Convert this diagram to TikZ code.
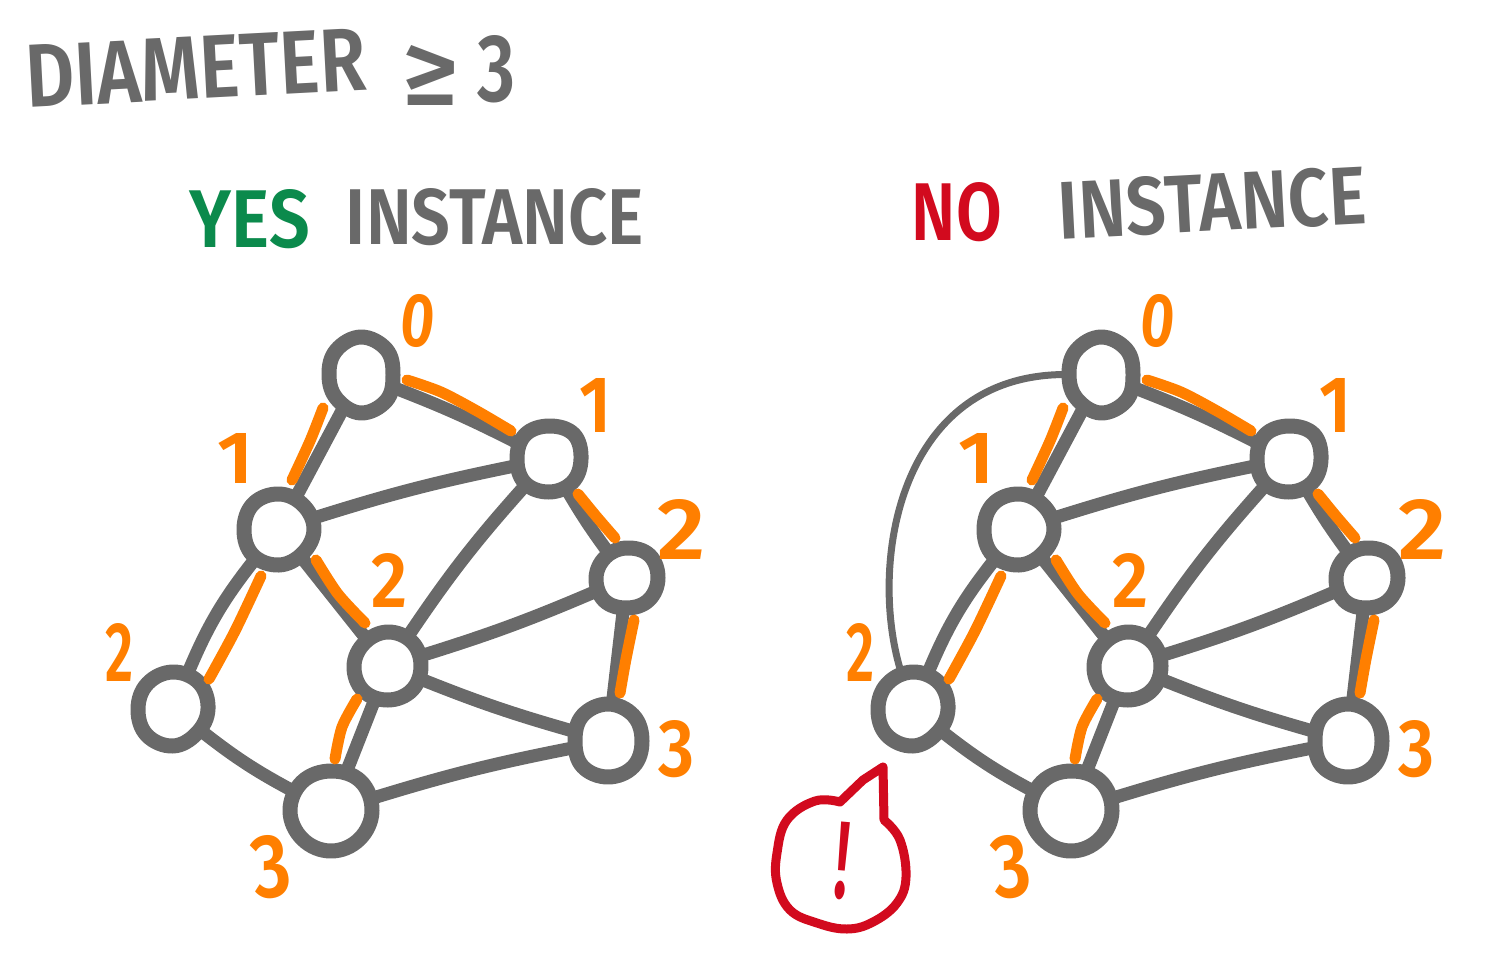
\documentclass[tikz,border=0pt]{standalone}
\usepackage{fontspec}
\usepackage{graphicx}
\setmainfont{Fira Sans}[BoldFont=* SemiBold]
\usetikzlibrary{shapes.geometric}
\definecolor{inkgray}{HTML}{696969}
\definecolor{inkorange}{HTML}{FF7F00}
\definecolor{inkgreen}{HTML}{0B8A4C}
\definecolor{inkred}{HTML}{D20A1E}
\newcommand{\handtext}[3]{\resizebox{#1pt}{#2pt}{\bfseries #3}}
\tikzset{
  hub/.style args={#1/#2}{ellipse,inner sep=0pt,outer sep=0pt,minimum width=#1pt,minimum height=#2pt},
  ring/.style={draw=inkgray,line width=15pt,line join=round},
  edge line/.style={draw=inkgray,line width=13pt},
  mark line/.style={draw=inkorange,line width=11pt,line cap=round,line join=round},
  label text/.style={inner sep=0pt,text=inkorange},
  title text/.style={inner sep=0pt,text=inkgray}
}
\newcommand{\graphat}[2]{%
  \begin{scope}[xshift=#2pt]
    \node[hub=64/76] (#1a) at (361,375) {};
    \node[hub=64/66] (#1b) at (549,459) {};
    \node[hub=70/72] (#1c) at (279,529) {};
    \node[hub=62/58] (#1d) at (627,578) {};
    \node[hub=68/68] (#1e) at (388,666) {};
    \node[hub=70/74] (#1f) at (173,709) {};
    \node[hub=68/72] (#1g) at (608,741) {};
    \node[hub=82/80] (#1h) at (331,811) {};
    \draw[edge line] (#1a) to[bend left=3] (#1b);
    \draw[edge line] (#1a) -- (#1c);
    \draw[edge line] (#1c) to[bend left=3] (#1b);
    \draw[edge line] (#1c) to[bend right=8] (#1f);
    \draw[edge line] (#1c) -- (#1e);
    \draw[edge line] (#1b) to[bend right=3] (#1d);
    \draw[edge line] (#1b) to[bend right=4] (#1e);
    \draw[edge line] (#1e) to[bend right=3] (#1d);
    \draw[edge line] (#1e) to[bend right=3] (#1g);
    \draw[edge line] (#1e) -- (#1h);
    \draw[edge line] (#1d) -- (#1g);
    \draw[edge line] (#1f) to[bend right=5] (#1h);
    \draw[edge line] (#1h) to[bend left=3] (#1g);
    \draw[ring,shift={(361,375)}] plot[smooth cycle,tension=.67] coordinates {(0:32) (45:36) (90:38) (135:34) (180:32) (225:35) (270:38) (315:36)};
    \draw[ring,shift={(549,459)}] plot[smooth cycle,tension=.67] coordinates {(0:32) (45:33) (90:33) (135:34) (180:32) (225:34) (270:33) (315:35)};
    \draw[ring,shift={(279,529)}] plot[smooth cycle,tension=.67] coordinates {(0:35) (45:34) (90:36) (135:37) (180:35) (225:36) (270:35) (315:34)};
    \draw[ring,shift={(627,578)}] plot[smooth cycle,tension=.67] coordinates {(0:31) (45:31) (90:30) (135:32) (180:31) (225:30) (270:30) (315:32)};
    \draw[ring,shift={(388,666)}] plot[smooth cycle,tension=.67] coordinates {(0:33) (45:34) (90:34) (135:35) (180:34) (225:33) (270:34) (315:34)};
    \draw[ring,shift={(173,709)}] plot[smooth cycle,tension=.67] coordinates {(0:35) (45:34) (90:37) (135:37) (180:35) (225:36) (270:37) (315:37)};
    \draw[ring,shift={(608,741)}] plot[smooth cycle,tension=.67] coordinates {(0:34) (45:36) (90:36) (135:36) (180:33) (225:36) (270:37) (315:36)};
    \draw[ring,shift={(331,811)}] plot[smooth cycle,tension=.67] coordinates {(0:41) (45:40) (90:40) (135:40) (180:41) (225:41) (270:40) (315:42)};
    \draw[mark line] plot[smooth] coordinates {(407,380) (441,392) (477,411) (511,431)};
    \draw[mark line] plot[smooth] coordinates {(323,408) (310,441) (292,480)};
    \draw[mark line] plot[smooth] coordinates {(578,494) (596,516) (615,538)};
    \draw[mark line] plot[smooth] coordinates {(316,560) (338,594) (365,623)};
    \draw[mark line] plot[smooth] coordinates {(261,576) (235,631) (209,679)};
    \draw[mark line] plot[smooth] coordinates {(634,620) (626,659) (620,693)};
    \draw[mark line] plot[smooth] coordinates {(357,699) (342,727) (335,759)};
    \node[label text,rotate=-6] (#1l0) at (418,321) {\handtext{34}{52}{0}};
    \node[label text] (#1l1) at (595,405) {\handtext{32}{54}{1}};
    \node[label text] (#1l2) at (236,458) {\handtext{36}{50}{1}};
    \node[label text] (#1l3) at (682,529) {\handtext{48}{60}{2}};
    \node[label text] (#1l4) at (390,580) {\handtext{36}{54}{2}};
    \node[label text] (#1l5) at (120,652) {\handtext{28}{58}{2}};
    \node[label text] (#1l6) at (676,749) {\handtext{36}{56}{3}};
    \node[label text,rotate=8] (#1l7) at (271,867) {\handtext{38}{62}{3}};
  \end{scope}%
}
\begin{document}
\begin{tikzpicture}[x=1pt,y=-1pt]
  \useasboundingbox (0,0) rectangle (1488,963);
  \node[title text,rotate=3] (titleword) at (196,68) {\handtext{340}{62}{DIAMETER}};
  \node[title text] (titlege) at (431,75) {\handtext{56}{60}{≥}};
  \node[title text] (titlenum) at (496,69) {\handtext{38}{66}{3}};
  \node[inner sep=0pt,text=inkgreen] (yes) at (250,219) {\handtext{120}{58}{YES}};
  \node[title text] (inst1) at (495,217) {\handtext{298}{56}{INSTANCE}};
  \node[inner sep=0pt,text=inkred] (no) at (957,212) {\handtext{90}{58}{NO}};
  \node[title text,rotate=3] (inst2) at (1212,203) {\handtext{308}{58}{INSTANCE}};
  \graphat{L}{0}
  \graphat{R}{740}
  \draw[draw=inkgray,line width=7pt] (Ra) .. controls (895,372) and (868,570) .. (Rf);
  \draw[draw=inkred,line width=9pt,line cap=round,line join=round]
    plot[smooth,tension=.67] coordinates {(884,820) (900,840) (906,877) (897,903) (873,922) (847,929) (817,923) (790,910) (777,883) (777,853) (787,820) (815,801) (840,802)} -- (863,780) -- (883,767) -- cycle;
  \node[inner sep=0pt,text=inkred,rotate=-5] (bang) at (843,861) {\handtext{14}{76}{!}};
\end{tikzpicture}
\end{document}
